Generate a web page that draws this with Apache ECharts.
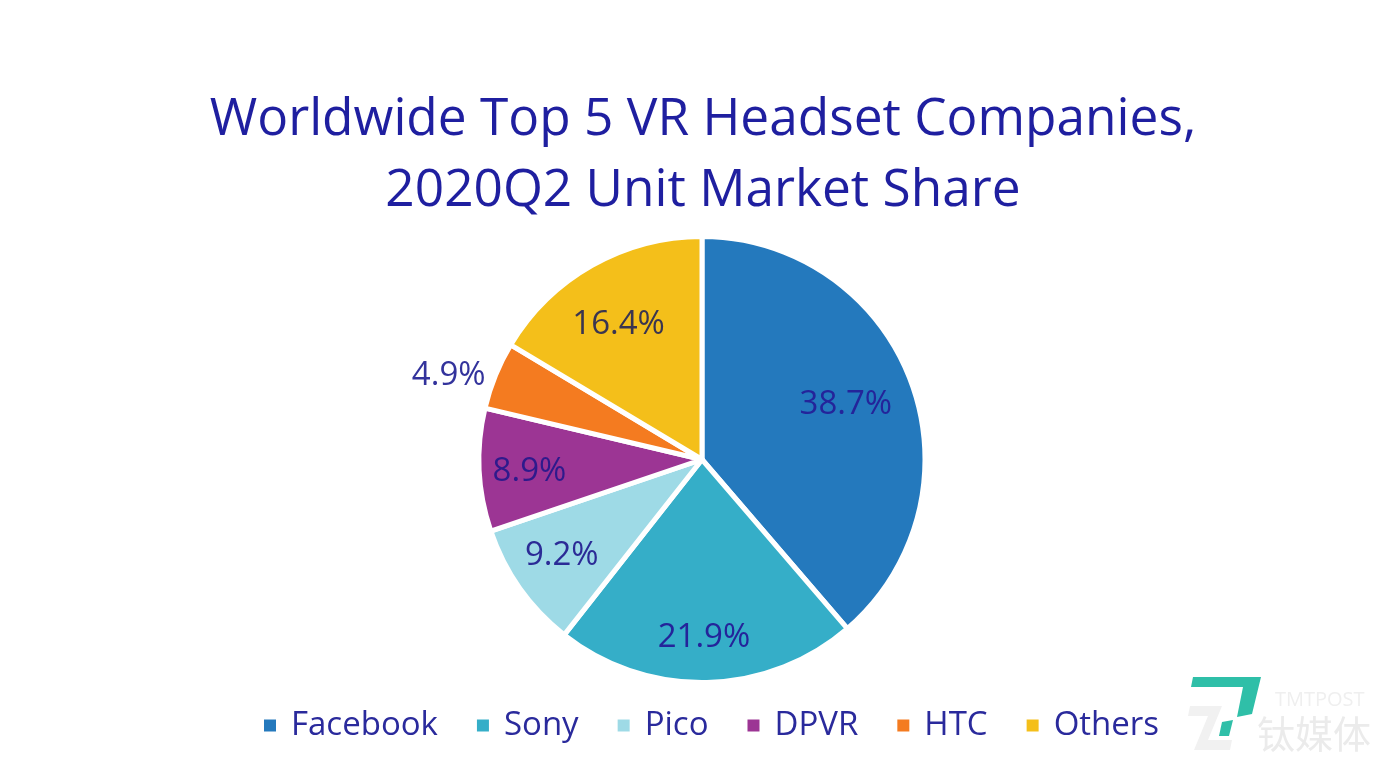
<!DOCTYPE html>
<html>
<head>
    <meta charset="UTF-8">
    <title>VR Headset Market Share</title>
    <script src="https://cdn.jsdelivr.net/npm/echarts@6/dist/echarts.min.js"></script>
    <style>
        html, body { margin: 0; padding: 0; background: #fff; }
        #chart { width: 1399px; height: 776px; }
    </style>
</head>
<body>
<div id="chart"></div>
<script>
    var companies = ['Facebook', 'Sony', 'Pico', 'DPVR', 'HTC', 'Others'];
    var shares = [38.7, 21.9, 9.2, 8.9, 4.9, 16.4];
    var colors = ['#2479bd', '#35aec8', '#9edae6', '#9c3594', '#f47b20', '#f4bf1a'];
    var labelColors = ['#24249a', '#24249a', '#2b2b96', '#2e1a8c', '#33339c', '#3a3550'];
    var titleLines = ['Worldwide Top 5 VR Headset Companies,', '2020Q2 Unit Market Share'];

    var font = '"Open Sans", "Noto Sans", sans-serif';
    var textColor = '#2a2a9c';
    var cx = 702, cy = 459.5;

    // how far each label sits out from the default inner position, plus a small nudge
    var labelPush = [1.34, 1.555, 1.49, 1.5, 1, 1.355];
    var labelNudge = [[0, -2], [-2, 0], [-1, -2], [-1, 4], [39, 6], [-7, 0]];

    var pieData = [];
    for (var i = 0; i < companies.length; i++) {
        var item = {
            name: companies[i],
            value: shares[i],
            itemStyle: {color: colors[i]},
            label: {color: labelColors[i]}
        };
        if (companies[i] === 'HTC') {
            item.label.position = 'outside';
            item.labelLine = {show: false};
        }
        pieData.push(item);
    }

    var chart = echarts.init(document.getElementById('chart'));
    chart.setOption({
        animation: false,
        backgroundColor: '#fff',
        title: {
            text: titleLines.join('\n'),
            left: 698,
            top: 80,
            textAlign: 'center',
            textStyle: {
                color: '#1f1fa0',
                fontFamily: font,
                fontWeight: 'normal',
                fontSize: 51.4,
                lineHeight: 71
            }
        },
        legend: {
            data: companies,
            left: 262,
            top: 709,
            padding: 0,
            icon: 'rect',
            itemWidth: 14,
            itemHeight: 14,
            itemGap: 37,
            textStyle: {color: textColor, fontFamily: font, fontSize: 33, padding: [0, 0, 0, 9]}
        },
        graphic: [
            {type: 'polygon', shape: {points: [[1193, 677], [1261, 677], [1252, 714], [1237, 717], [1243, 687], [1191, 687]]}, style: {fill: '#2fbfa8'}},
            {type: 'polygon', shape: {points: [[1222, 722], [1233, 720], [1229, 736], [1219, 736]]}, style: {fill: '#2fbfa8'}},
            {type: 'polygon', shape: {points: [[1190, 706], [1222, 706], [1208, 740], [1232, 740], [1230, 750], [1194, 750], [1208, 716], [1188, 716]]}, style: {fill: '#f1f1f1'}},
            {type: 'text', left: 1275, top: 690, style: {text: 'TMTPOST', fill: '#efefef', fontFamily: font, fontSize: 20}},
            {type: 'text', left: 1257, top: 715, style: {text: '钛媒体', fill: '#ebebeb', fontFamily: '"Noto Sans CJK SC"', fontSize: 38}}
        ],
        series: [{
            type: 'pie',
            center: [cx, cy],
            radius: [0, 223],
            startAngle: 90,
            clockwise: true,
            data: pieData,
            itemStyle: {borderColor: '#fff', borderWidth: 5},
            label: {
                show: true,
                position: 'inner',
                formatter: function (p) { return p.value.toFixed(1) + '%'; },
                color: textColor,
                fontFamily: font,
                fontSize: 33
            },
            labelLine: {show: false},
            labelLayout: function (p) {
                var r = p.labelRect;
                var k = labelPush[p.dataIndex] - 1;
                var n = labelNudge[p.dataIndex];
                return {
                    dx: (r.x + r.width / 2 - cx) * k + n[0],
                    dy: (r.y + r.height / 2 - cy) * k + n[1]
                };
            }
        }]
    });
</script>
</body>
</html>
